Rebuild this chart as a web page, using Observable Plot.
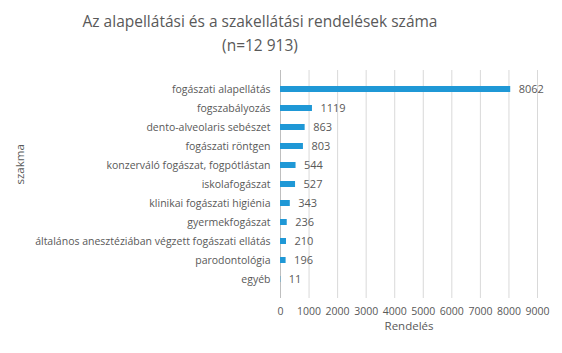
<!DOCTYPE html>
<html>
<head>
<meta charset="utf-8">
<script src="https://cdn.jsdelivr.net/npm/d3@7"></script>
<script src="https://cdn.jsdelivr.net/npm/@observablehq/plot@0.6"></script>
<style>
  body { margin: 0; background: #fff; font-family: "Open Sans", sans-serif; }
  #wrap { width: 562px; height: 353px; position: relative; overflow: hidden; }
  .title { position: absolute; left: 0; width: 520px; text-align: center; color: #595959; font-size: 15.5px; }
</style>
</head>
<body>
<div id="wrap">
  <div class="title" style="top:10px;">Az alapellátási és a szakellátási rendelések száma</div>
  <div class="title" style="top:34px;">(n=12 913)</div>
  <div id="chart" style="position:absolute; top:60px; left:0;"></div>
</div>
<script>
const categories = [
  "fogászati alapellátás",
  "fogszabályozás",
  "dento-alveolaris sebészet",
  "fogászati röntgen",
  "konzerváló fogászat, fogpótlástan",
  "iskolafogászat",
  "klinikai fogászati higiénia",
  "gyermekfogászat",
  "általános anesztéziában végzett fogászati ellátás",
  "parodontológia",
  "egyéb"
];
const values = [8062, 1119, 863, 803, 544, 527, 343, 236, 210, 196, 11];
const xTicks = [0, 1000, 2000, 3000, 4000, 5000, 6000, 7000, 8000, 9000];
const xLabel = "Rendelés";
const yLabel = "szakma";

const data = categories.map((c, i) => ({ cat: c, v: values[i] }));
const grey = "#595959";

const chart = Plot.plot({
  width: 562,
  height: 293,
  marginTop: 10,
  marginBottom: 55,
  marginLeft: 280,
  marginRight: 25,
  style: { fontFamily: "Open Sans, sans-serif", fontSize: "10.5px", color: grey },
  x: { domain: [0, 9000], ticks: xTicks, label: null },
  y: { domain: categories, label: null, padding: 0.66 },
  marks: [
    Plot.gridX(xTicks, { stroke: "#d9d9d9", strokeOpacity: 1 }),
    Plot.ruleX([0], { stroke: "#bfbfbf" }),
    Plot.barX(data, { x: "v", y: "cat", fill: "#1f98d6" }),
    Plot.text(data, { x: "v", y: "cat", text: d => String(d.v), textAnchor: "start", dx: 8, fill: grey, fontSize: 11 }),
    Plot.axisX({ ticks: xTicks, tickFormat: d => String(d), tickSize: 0, tickPadding: 9, label: null, fill: grey, fontSize: 10.5 }),
    Plot.axisY({ tickSize: 0, tickPadding: 10, label: null, fill: grey, fontSize: 10.5 }),
    Plot.text([xLabel], { frameAnchor: "bottom", dy: 31, fill: grey, fontSize: 11.5 }),
    Plot.text([yLabel], { frameAnchor: "left", rotate: -90, dx: -260, fill: grey, fontSize: 11.5 })
  ]
});
document.getElementById("chart").appendChild(chart);
</script>
</body>
</html>
